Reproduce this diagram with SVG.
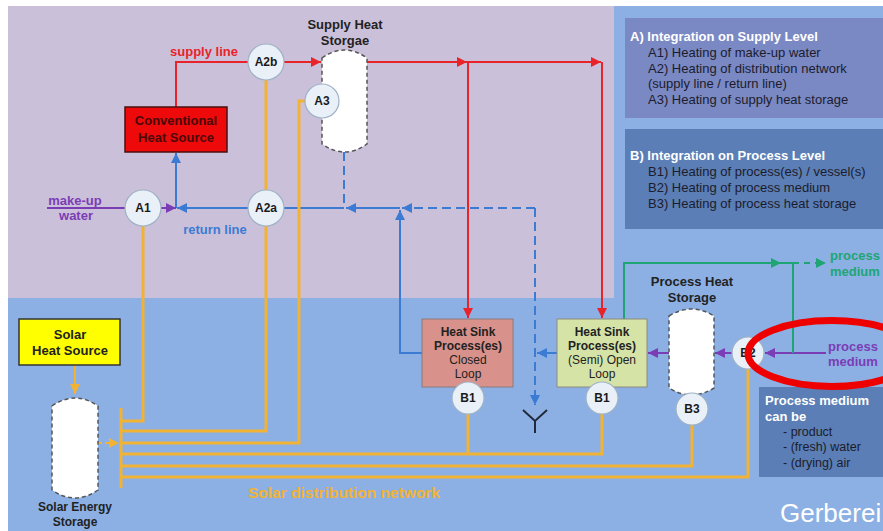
<svg xmlns="http://www.w3.org/2000/svg" width="883" height="531" viewBox="0 0 883 531">
<style>
text{font-family:"Liberation Sans",Arial,sans-serif}
.b{font-weight:bold}
.lbl{font-size:13px;font-weight:bold;text-anchor:middle;fill:#222}
.box{font-size:12px;text-anchor:middle;fill:#222}
.leg{font-size:13px;fill:#1c1c2c}
.legh{font-size:13px;font-weight:bold;fill:#fff}
.circ{fill:#e9f0f8;stroke:#9fb2c6;stroke-width:1.2}
.ctext{font-size:12px;font-weight:bold;text-anchor:middle;fill:#1a1a1a}
.tank{fill:#fff;stroke:#555;stroke-width:1.5;stroke-dasharray:4 3}
.red{stroke:#e8232a;stroke-width:2;fill:none}
.blue{stroke:#3b7bd4;stroke-width:2;fill:none}
.dash{stroke-dasharray:9 5}
.pur{stroke:#7b3db5;stroke-width:2;fill:none}
.grn{stroke:#1fa574;stroke-width:2;fill:none}
.yel{stroke:#f2b233;stroke-width:3;fill:none}
</style>
<defs>
<marker id="mr" viewBox="0 0 10 10" refX="10" refY="5" markerWidth="13" markerHeight="10" markerUnits="userSpaceOnUse" orient="auto"><path d="M0,0L10,5L0,10z" fill="#e8232a"/></marker>
<marker id="mb" viewBox="0 0 10 10" refX="10" refY="5" markerWidth="13" markerHeight="10" markerUnits="userSpaceOnUse" orient="auto"><path d="M0,0L10,5L0,10z" fill="#3b7bd4"/></marker>
<marker id="mp" viewBox="0 0 10 10" refX="10" refY="5" markerWidth="13" markerHeight="10" markerUnits="userSpaceOnUse" orient="auto"><path d="M0,0L10,5L0,10z" fill="#7b3db5"/></marker>
<marker id="mg" viewBox="0 0 10 10" refX="10" refY="5" markerWidth="13" markerHeight="10" markerUnits="userSpaceOnUse" orient="auto"><path d="M0,0L10,5L0,10z" fill="#1fa574"/></marker>
<marker id="my" viewBox="0 0 10 10" refX="10" refY="5" markerWidth="12" markerHeight="10" markerUnits="userSpaceOnUse" orient="auto"><path d="M0,0L10,5L0,10z" fill="#f2b233"/></marker>
</defs>
<rect width="883" height="531" fill="#fff"/>
<rect x="8" y="6" width="875" height="525" fill="#8cb0e4"/>
<rect x="8" y="6" width="606" height="292" fill="#cbc0d9"/>
<g id="legendA">
<rect x="625" y="18" width="258" height="100" fill="#7a88c3"/>
<text class="legh" x="630" y="41">A) Integration on Supply Level</text>
<text class="leg" x="648" y="57">A1) Heating of make-up water</text>
<text class="leg" x="648" y="73">A2) Heating of distribution network</text>
<text class="leg" x="648" y="88">(supply line / return line)</text>
<text class="leg" x="648" y="104">A3) Heating of supply heat storage</text>
</g>
<g id="legendB">
<rect x="625" y="129" width="258" height="100" fill="#5a7eb5"/>
<text class="legh" x="630" y="160">B) Integration on Process Level</text>
<text class="leg" x="648" y="176">B1) Heating of process(es) / vessel(s)</text>
<text class="leg" x="648" y="192">B2) Heating of process medium</text>
<text class="leg" x="648" y="208">B3) Heating of process heat storage</text>
</g>
<g id="connectors">
<path class="red" d="M176,107V62H248"/>
<path class="red" d="M284,62H321" marker-end="url(#mr)"/>
<path class="red" d="M367,62H467" marker-end="url(#mr)"/>
<path class="red" d="M467,62H601" marker-end="url(#mr)"/>
<path class="red" d="M468,62V318" marker-end="url(#mr)"/>
<path class="red" d="M602,62V318" marker-end="url(#mr)"/>
<path class="blue" d="M248,208H177" marker-end="url(#mb)"/>
<path class="blue" d="M176,208V153" marker-end="url(#mb)"/>
<path class="blue" d="M400,208H346" marker-end="url(#mb)"/>
<path class="blue" d="M344,208H284"/>
<path class="blue dash" d="M344,152V208"/>
<path class="blue dash" d="M535,208H402" marker-end="url(#mb)"/>
<path class="blue" d="M422,353H400V210" marker-end="url(#mb)"/>
<path class="blue dash" d="M535,208V405" marker-end="url(#mb)"/>
<path class="blue" d="M557,353H537" marker-end="url(#mb)"/>
<path d="M523,410L535,421L547,410M535,421V433" stroke="#222a3a" stroke-width="2" fill="none"/>
<path class="pur" d="M47,208H125"/>
<path class="pur" d="M161,208H176" marker-end="url(#mp)"/>
<path class="pur" d="M826,353H765" marker-end="url(#mp)"/>
<path class="pur" d="M732,353H715" marker-end="url(#mp)"/>
<path class="pur" d="M669,353H648" marker-end="url(#mp)"/>
<path class="grn" d="M624,319V263H781" marker-end="url(#mg)"/>
<path class="grn" d="M779,263H793V353"/>
<path class="grn" d="M793,263H826" stroke-dasharray="6 5" marker-end="url(#mg)"/>
<path class="yel" d="M143,226V421H121"/>
<path class="yel" d="M266,80V431H121"/>
<path class="yel" d="M305,101H299V443H121"/>
<path class="yel" d="M468,414V454M602,414V454H121"/>
<path class="yel" d="M692,425V466H121"/>
<path class="yel" d="M748,369V477H121"/>
<path class="yel" d="M121,408V488"/>
<path d="M75,365V394" stroke="#f2b233" stroke-width="2" marker-end="url(#my)"/>
<path d="M98,443H119" stroke="#f2b233" stroke-width="2" stroke-dasharray="4 3" marker-end="url(#my)"/>
</g>
<g id="labels">
<text class="lbl" x="204" y="56" style="fill:#e8232a">supply line</text>
<text class="lbl" x="215" y="234" style="fill:#3b7bd4">return line</text>
<text class="lbl" x="75" y="205" style="fill:#7b3db5">make-up</text>
<text class="lbl" x="76" y="220" style="fill:#7b3db5">water</text>
<text class="b" x="830" y="260" font-size="13" fill="#1fa574">process</text>
<text class="b" x="830" y="276" font-size="13" fill="#1fa574">medium</text>
<text class="b" x="828" y="351" font-size="13" fill="#7b3db5">process</text>
<text class="b" x="828" y="366" font-size="13" fill="#7b3db5">medium</text>
<text class="b" x="344" y="498" font-size="15.5" text-anchor="middle" fill="#f2b233">Solar distribution network</text>
</g>
<g id="conventional">
<rect x="125" y="107" width="102" height="45" fill="#ee0a0a" stroke="#4a1010" stroke-width="1.5"/>
<text class="lbl" x="176" y="125" style="fill:#4a0808">Conventional</text>
<text class="lbl" x="176" y="142" style="fill:#4a0808">Heat Source</text>
</g>
<g id="supplyStorage">
<text class="lbl" x="345" y="29">Supply Heat</text>
<text class="lbl" x="345" y="45">Storgae</text>
<path class="tank" d="M322,58Q344.5,42 367,58V144Q344.5,160 322,144Z"/>
</g>
<g id="A1"><circle class="circ" cx="143" cy="208" r="18"/><text class="ctext" x="143" y="212">A1</text></g>
<g id="A2a"><circle class="circ" cx="266" cy="208" r="18"/><text class="ctext" x="266" y="212">A2a</text></g>
<g id="A2b"><circle class="circ" cx="266" cy="62" r="18"/><text class="ctext" x="266" y="66">A2b</text></g>
<g id="A3"><circle class="circ" cx="322" cy="101" r="17"/><text class="ctext" x="322" y="105">A3</text></g>
<g id="closedLoop">
<rect x="422" y="319" width="91" height="68" fill="#d8918b" stroke="#8a7a7a" stroke-width="1"/>
<text class="box b" x="468" y="336">Heat Sink</text>
<text class="box b" x="468" y="350">Process(es)</text>
<text class="box" x="468" y="364">Closed</text>
<text class="box" x="468" y="378">Loop</text>
</g>
<g id="openLoop">
<rect x="557" y="319" width="90" height="68" fill="#d5e3a7" stroke="#8a8a7a" stroke-width="1"/>
<text class="box b" x="602" y="336">Heat Sink</text>
<text class="box b" x="602" y="350">Process(es)</text>
<text class="box" x="602" y="364">(Semi) Open</text>
<text class="box" x="602" y="378">Loop</text>
</g>
<g id="B1a"><circle class="circ" cx="468" cy="398" r="16"/><text class="ctext" x="468" y="402">B1</text></g>
<g id="B1b"><circle class="circ" cx="602" cy="398" r="16"/><text class="ctext" x="602" y="402">B1</text></g>
<g id="processStorage">
<text class="lbl" x="692" y="286">Process Heat</text>
<text class="lbl" x="692" y="302">Storage</text>
<path class="tank" d="M669,316Q691.5,302 714,316V388Q691.5,402 669,388Z"/>
</g>
<g id="B3"><circle class="circ" cx="692" cy="409" r="16"/><text class="ctext" x="692" y="413">B3</text></g>
<g id="B2"><circle class="circ" cx="748" cy="353" r="16"/><text class="ctext" x="748" y="357">B2</text></g>
<g id="mediumNote">
<rect x="759" y="387" width="124" height="90" fill="#5a7eb5"/>
<text class="b" x="765" y="405" font-size="13" fill="#fff">Process medium</text>
<text class="b" x="765" y="421" font-size="13" fill="#fff">can be</text>
<text x="783" y="436" font-size="12.5" fill="#1c1c2c">- product</text>
<text x="783" y="451" font-size="12.5" fill="#1c1c2c">- (fresh) water</text>
<text x="783" y="467" font-size="12.5" fill="#1c1c2c">- (drying) air</text>
</g>
<g id="solarSource">
<rect x="19" y="319" width="101" height="46" fill="#ffff00" stroke="#333" stroke-width="1.5"/>
<text class="lbl" x="70" y="339">Solar</text>
<text class="lbl" x="70" y="355">Heat Source</text>
</g>
<g id="solarStorage">
<path class="tank" d="M52,406Q75,390 98,406V490Q75,506 52,490Z"/>
<text class="box b" x="75" y="511">Solar Energy</text>
<text class="box b" x="75" y="526">Storage</text>
</g>
<ellipse cx="832" cy="353.5" rx="84" ry="33" fill="none" stroke="#ee0000" stroke-width="7"/>
<text x="780" y="522" font-family="DejaVu Sans,Verdana,sans-serif" font-size="26" fill="#fff">Gerberei</text>
</svg>
